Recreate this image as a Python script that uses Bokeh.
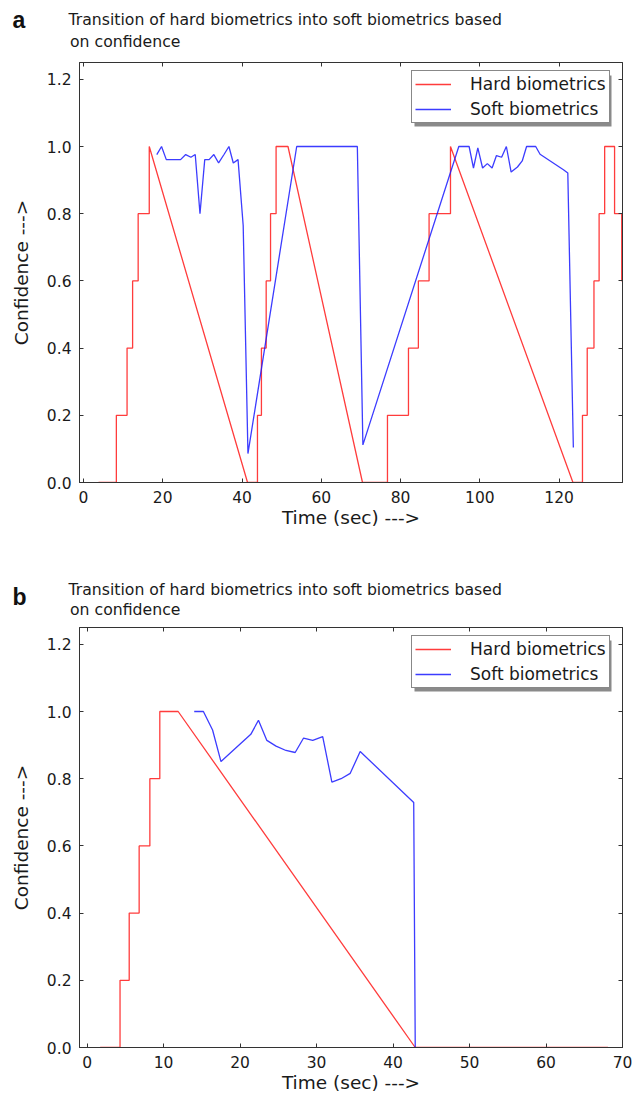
from bokeh.plotting import figure
from bokeh.models import (LinearAxis, FixedTicker, Range1d, Legend,
                          LegendItem, PrintfTickFormatter, BoxAnnotation)
from bokeh.core.properties import value
from bokeh.layouts import column, row
from bokeh.embed import file_html
from bokeh.resources import INLINE

# ---------------- data ----------------
panel_letters = ["a", "b"]
title_text_1 = "Transition of hard biometrics into soft biometrics based"
title_text_2 = "on confidence"
x_label = "Time (sec) --->"
y_label = "Confidence --->"
series_names = ["Hard biometrics", "Soft biometrics"]
y_ticks = [0.0, 0.2, 0.4, 0.6, 0.8, 1.0, 1.2]
x_ticks_a = [0, 20, 40, 60, 80, 100, 120]
x_ticks_b = [0, 10, 20, 30, 40, 50, 60, 70]

# panel a
hard_a_x = [3.8, 8.3, 8.3, 11.0, 11.0, 12.4, 12.4, 13.8, 13.8, 16.6, 16.6,
            41.4, 43.9, 43.9, 44.9, 44.9, 46.1, 46.1, 47.2, 47.2, 48.6, 48.6, 51.6,
            70.4, 76.7, 76.7, 82.0, 82.0, 84.5, 84.5, 87.2, 87.2, 92.6, 92.6,
            123.5, 125.9, 125.9, 127.1, 127.1, 128.8, 128.8, 130.1, 130.1, 131.5,
            131.5, 134.0, 134.0, 135.8, 135.8, 137.0]
hard_a_y = [0, 0, 0.2, 0.2, 0.4, 0.4, 0.6, 0.6, 0.8, 0.8, 1.0,
            0, 0, 0.2, 0.2, 0.4, 0.4, 0.6, 0.6, 0.8, 0.8, 1.0, 1.0,
            0, 0, 0.2, 0.2, 0.4, 0.4, 0.6, 0.6, 0.8, 0.8, 1.0,
            0, 0, 0.2, 0.2, 0.4, 0.4, 0.6, 0.6, 0.8, 0.8,
            1.0, 1.0, 0.8, 0.8, 0.6, 0.6]
soft_a_x = [18.5, 19.7, 20.9, 24.5, 25.8, 27.1, 28.2, 29.4, 30.6, 31.7, 32.9,
            34.1, 35.5, 36.7, 37.8, 39.0, 40.3, 41.5, 53.8, 69.1, 70.5, 94.7,
            97.3, 98.4, 99.5, 100.7, 101.9, 103.1, 104.2, 105.5, 106.7, 107.9,
            109.5, 110.7, 111.8, 114.1, 115.2, 121.1, 122.2, 123.6]
soft_a_y = [0.976, 1.0, 0.961, 0.961, 0.976, 0.968, 0.976, 0.80, 0.961, 0.961,
            0.976, 0.951, 0.977, 1.0, 0.951, 0.961, 0.765, 0.086, 1.0, 1.0, 0.112,
            1.0, 1.0, 0.936, 0.996, 0.936, 0.949, 0.936, 0.973, 0.968, 1.0, 0.924,
            0.939, 0.957, 1.0, 1.0, 0.977, 0.931, 0.921, 0.104]

# panel b
hard_b_x = [1.7, 4.3, 4.3, 5.5, 5.5, 6.8, 6.8, 8.2, 8.2, 9.5, 9.5, 11.9, 42.9, 68.1]
hard_b_y = [0, 0, 0.2, 0.2, 0.4, 0.4, 0.6, 0.6, 0.8, 0.8, 1.0, 1.0, 0, 0]
soft_b_x = [14.0, 15.2, 16.4, 17.5, 21.4, 22.4, 23.5, 24.7, 26.0, 27.2, 28.3,
            29.5, 30.8, 32.0, 33.2, 34.4, 35.7, 42.7, 42.9]
soft_b_y = [1.0, 1.0, 0.945, 0.851, 0.932, 0.974, 0.914, 0.897, 0.884, 0.878,
            0.921, 0.914, 0.925, 0.790, 0.80, 0.816, 0.881, 0.729, 0.0]

FONT = "DejaVu Sans"
RED = "#ff1a1a"
BLUE = "#1a1aff"
AX = "#333333"
TXT = "#1a1a1a"
W = 643
FRAME_LEFT = 79
FRAME_W = 543
FRAME_H = 420


def style_axis(ax, ticks, fmt=None, labels=True):
    ax.ticker = FixedTicker(ticks=ticks)
    if fmt:
        ax.formatter = PrintfTickFormatter(format=fmt)
    ax.major_tick_in = 4
    ax.major_tick_out = 0
    ax.minor_tick_line_color = None
    ax.major_tick_line_color = AX
    ax.axis_line_color = AX
    ax.major_label_text_font = FONT
    if labels:
        ax.major_label_text_font_size = "15.5px"
        ax.major_label_text_color = TXT
        ax.major_label_standoff = 8
    else:
        ax.major_label_text_font_size = "1px"
        ax.major_label_text_color = None
        ax.major_label_standoff = 0
    ax.axis_label_text_font = FONT
    ax.axis_label_text_font_style = "normal"
    ax.axis_label_text_font_size = "18.5px"
    ax.axis_label_text_color = TXT


def title_strip(letter, height, letter_y, t1_y, t2_y):
    s = figure(width=W, height=height, x_range=Range1d(0, W),
               y_range=Range1d(height, 0), x_axis_type=None, y_axis_type=None,
               output_backend="svg", toolbar_location=None, min_border=0,
               title_location=None)
    s.xgrid.visible = False
    s.ygrid.visible = False
    s.outline_line_color = None
    s.text(x=[12], y=[letter_y], text=[letter], text_font=value("Liberation Sans"),
           text_font_style="bold", text_font_size=value("23px"),
           text_color="#111111", text_baseline="alphabetic")
    s.text(x=[68, 69.5], y=[t1_y, t2_y], text=[title_text_1, title_text_2],
           text_font=value(FONT), text_font_size=value("15.7px"),
           text_color=TXT, text_baseline="alphabetic")
    return s


def make_panel(xr, xticks, hx, hy, sx, sy, height, top, bottom):
    p = figure(width=W, height=height, x_range=Range1d(*xr),
               y_range=Range1d(0, 1.25), output_backend="svg",
               toolbar_location=None, min_border_left=FRAME_LEFT,
               min_border_right=W - FRAME_LEFT - FRAME_W,
               min_border_top=top, min_border_bottom=bottom)
    p.xgrid.visible = False
    p.ygrid.visible = False
    p.outline_line_color = AX
    p.outline_line_width = 1

    style_axis(p.xaxis[0], xticks)
    style_axis(p.yaxis[0], y_ticks, "%.1f")
    p.xaxis[0].axis_label = x_label
    p.yaxis[0].axis_label = y_label
    p.xaxis[0].axis_label_standoff = 1
    p.yaxis[0].axis_label_standoff = 12

    top_ax = LinearAxis()
    style_axis(top_ax, xticks, labels=False)
    right_ax = LinearAxis()
    style_axis(right_ax, y_ticks, labels=False)
    p.add_layout(top_ax, "above")
    p.add_layout(right_ax, "right")

    r1 = p.line(hx, hy, line_color=RED, line_width=1.3, line_alpha=0.85)
    r2 = p.line(sx, sy, line_color=BLUE, line_width=1.3, line_alpha=0.85)

    lx, ltop, lw, lh = 332, FRAME_H - 10, 197, 51
    shadow = BoxAnnotation(left=lx + 3, right=lx + lw + 3,
                           top=ltop - 3, bottom=ltop - lh - 3,
                           left_units="screen", right_units="screen",
                           top_units="screen", bottom_units="screen",
                           fill_color="#8a8a8a", fill_alpha=1, line_color=None)
    p.add_layout(shadow)

    legend = Legend(items=[LegendItem(label=series_names[0], renderers=[r1]),
                           LegendItem(label=series_names[1], renderers=[r2])],
                    location=(lx, ltop - lh))
    legend.margin = 0
    legend.padding = 3
    legend.spacing = 5
    legend.glyph_width = 36
    legend.glyph_height = 20
    legend.label_height = 20
    legend.label_standoff = 19
    legend.label_text_font = FONT
    legend.label_text_font_size = "17px"
    legend.label_text_color = TXT
    legend.border_line_color = "#111111"
    legend.border_line_width = 1
    legend.background_fill_color = "white"
    legend.background_fill_alpha = 1
    p.add_layout(legend, "center")
    return p


strip_a = title_strip(panel_letters[0], 56, 19, 19, 41)
pa = make_panel((-1, 136), x_ticks_a, hard_a_x, hard_a_y, soft_a_x, soft_a_y,
                height=517, top=6, bottom=91)
strip_b = title_strip(panel_letters[1], 50, 23, 16, 36)
pb = make_panel((-1, 70), x_ticks_b, hard_b_x, hard_b_y, soft_b_x, soft_b_y,
                height=474, top=4, bottom=50)

# the title strips are wrapped in rows so their frames span the full width
layout = column(row(strip_a), pa, row(strip_b), pb, spacing=0)
open("out.html", "w").write(file_html(layout, INLINE))
